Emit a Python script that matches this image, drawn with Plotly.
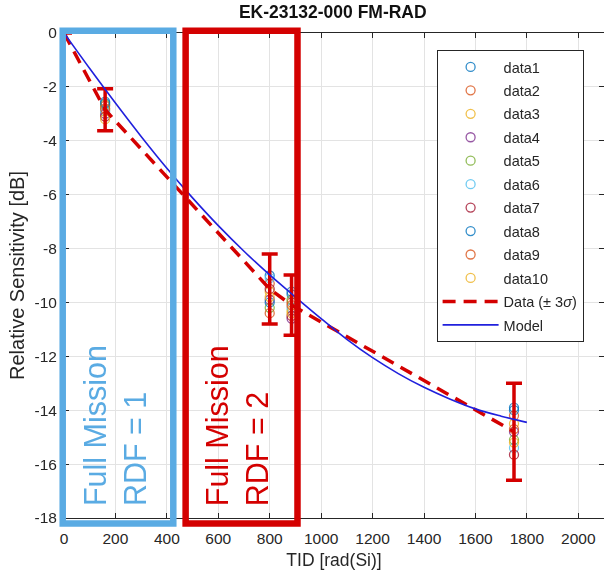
import plotly.graph_objects as go

# ---------------- data ----------------
DOSE = [160, 800, 885, 1750]

SERIES_NAMES = ["data1", "data2", "data3", "data4", "data5",
                "data6", "data7", "data8", "data9", "data10"]
SERIES_COLORS = ["#0072BD", "#D95319", "#EDB120", "#7E2F8E", "#77AC30",
                 "#4DBEEE", "#A2142F", "#0072BD", "#D95319", "#EDB120"]

# per-device values at each dose [160, 800, 885, 1750]
DEVICE_VALUES = [
    [-2.55, -9.0, -9.7, -13.9],
    [-2.70, -9.3, -10.0, -14.2],
    [-2.85, -9.6, -10.3, -14.5],
    [-3.00, -9.9, -10.6, -14.8],
    [-2.65, -10.2, -9.9, -15.1],
    [-2.90, -9.1, -10.2, -15.4],
    [-3.10, -9.5, -10.5, -15.65],
    [-2.60, -10.0, -9.6, -14.0],
    [-2.80, -10.4, -10.1, -14.7],
    [-3.20, -9.8, -10.4, -15.2],
]

MEAN_X = [0, 160, 800, 885, 1750]
MEAN_Y = [0, -2.85, -9.5, -10.1, -14.8]
ERR_3SIGMA = [0, 0.78, 1.3, 1.12, 1.8]

MODEL_X = [0, 100, 200, 300, 400, 500, 600, 700, 800, 900,
           1000, 1100, 1200, 1300, 1400, 1500, 1600, 1700, 1800]
MODEL_Y = [0, -1.32, -2.6, -3.84, -5.02, -6.12, -7.15, -8.1, -8.98, -9.8,
           -10.6, -11.37, -12.05, -12.64, -13.15, -13.58, -13.95, -14.22, -14.45]

X_TICKS = [0, 200, 400, 600, 800, 1000, 1200, 1400, 1600, 1800, 2000]
Y_TICKS = [0, -2, -4, -6, -8, -10, -12, -14, -16, -18]
Y_TICK_TEXT = ["0", "-2", "-4", "-6", "-8", "-10", "-12", "-14", "-16", "-18"]

X_RANGE = [0, 2100]
Y_RANGE = [-18, 0]

# ---------------- figure ----------------
FONT = "Liberation Sans, Arial, sans-serif"
TXT = "#262626"
fig = go.Figure()

for i, (name, col, vals) in enumerate(zip(SERIES_NAMES, SERIES_COLORS, DEVICE_VALUES)):
    fig.add_trace(go.Scatter(
        x=DOSE, y=vals, mode="markers", name=name, legendgroup=f"g{i}",
        marker=dict(symbol="circle-open", size=9, color=col, line=dict(width=1.3)),
        opacity=0.8,
    ))

fig.add_trace(go.Scatter(
    x=MEAN_X, y=MEAN_Y, mode="lines", name="Data (± 3<i>σ</i>)", legendgroup="g10",
    line=dict(color="#D40000", width=3.5, dash="13px,8px"),
    error_y=dict(type="data", array=ERR_3SIGMA, visible=True, color="#D40000",
                 thickness=3.5, width=8),
))

fig.add_trace(go.Scatter(
    x=MODEL_X, y=MODEL_Y, mode="lines", name="Model", legendgroup="g11",
    line=dict(color="#2020DD", width=1.6, shape="spline"),
))

# boxes (paper coords so they are not clipped)
def px(v):
    return (v - X_RANGE[0]) / (X_RANGE[1] - X_RANGE[0])

def py(v):
    return (v - Y_RANGE[0]) / (Y_RANGE[1] - Y_RANGE[0])

BLUE = "#5AABE3"
RED = "#D40000"
fig.add_shape(type="rect", xref="paper", yref="paper",
              x0=px(-5), x1=px(425), y0=py(-18.2), y1=py(0.08),
              line=dict(color=BLUE, width=6.5), layer="above")
fig.add_shape(type="rect", xref="paper", yref="paper",
              x0=px(473), x1=px(908), y0=py(-18.2), y1=py(0.08),
              line=dict(color=RED, width=6.5), layer="above")

fig.add_annotation(xref="paper", yref="paper", x=px(45), y=py(-17.63),
                   xanchor="left", yanchor="bottom",
                   text="Full Mission<br>RDF = 1", textangle=-90, showarrow=False,
                   align="left", font=dict(family=FONT, size=30.5, color=BLUE))
fig.add_annotation(xref="paper", yref="paper", x=px(520), y=py(-17.63),
                   xanchor="left", yanchor="bottom",
                   text="Full Mission<br>RDF = 2", textangle=-90, showarrow=False,
                   align="left", font=dict(family=FONT, size=30.5, color=RED))

fig.update_layout(
    width=604, height=575,
    margin=dict(l=64, r=0, t=33, b=57),
    paper_bgcolor="white", plot_bgcolor="white",
    font=dict(family=FONT, size=15.5, color=TXT),
    title=dict(text="<b>EK-23132-000 FM-RAD</b>", x=0.551, xanchor="center",
               y=1 - 12 / 575, yanchor="middle", font=dict(size=17.5, color="#111111")),
    legend=dict(x=0.69, y=0.965, xanchor="left", yanchor="top",
                bgcolor="white", bordercolor=TXT, borderwidth=1,
                font=dict(size=14.5, color=TXT), tracegroupgap=1.6, itemwidth=56),
    xaxis=dict(range=X_RANGE, tickvals=X_TICKS, showgrid=True, gridcolor="#E3E3E3",
               ticks="inside", ticklen=5, tickcolor=TXT, showline=True, linecolor=TXT,
               linewidth=1, mirror="ticks", zeroline=False, automargin=False,
               ticklabelstandoff=6,
               title=dict(text="TID [rad(Si)]", standoff=8, font=dict(size=17.5))),
    yaxis=dict(range=Y_RANGE, tickvals=Y_TICKS, ticktext=Y_TICK_TEXT, showgrid=True,
               gridcolor="#E3E3E3", ticks="inside", ticklen=5, tickcolor=TXT,
               showline=True, linecolor=TXT, linewidth=1, mirror="ticks", zeroline=False,
               automargin=False, ticklabelstandoff=3,
               title=dict(text="Relative Sensitivity [dB]", standoff=4, font=dict(size=20))),
)

fig.write_html("out.html", config={"displayModeBar": False},
               post_script="document.body.style.margin='0';document.body.style.overflow='hidden';")
